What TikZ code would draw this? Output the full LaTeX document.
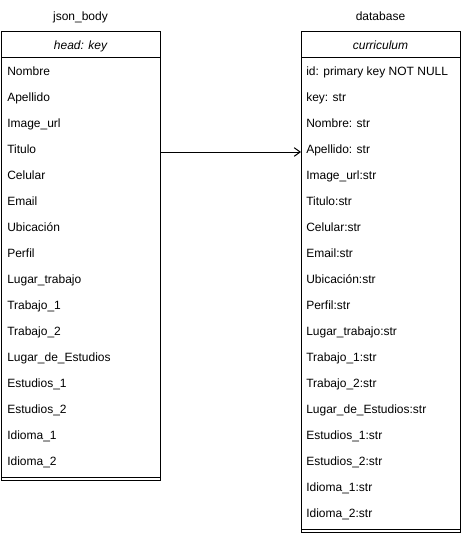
\documentclass[tikz,border=0pt]{standalone}
\usepackage{fontspec}
\setmainfont{Liberation Sans}
\usetikzlibrary{arrows.meta,calc}
\begin{document}
\begin{tikzpicture}[x=0.75pt,y=-0.75pt,
  boxframe/.style={draw=black,line width=0.75pt,rectangle,inner sep=0pt,minimum width=119.25pt},
  rowtxt/.style={anchor=base west,inner sep=0pt,font=\fontsize{9pt}{11pt}\selectfont},
  headtxt/.style={anchor=base,inner sep=0pt,font=\fontsize{9pt}{11pt}\selectfont\itshape},
  titletxt/.style={anchor=base,inner sep=0pt,font=\fontsize{9pt}{11pt}\selectfont},
  divline/.style={draw=black,line width=0.75pt},
  link/.style={draw=black,line width=0.75pt,-{Straight Barb[length=4.5pt,width=6.5pt]}}]
\useasboundingbox (0,0) rectangle (462,533);
% left box
\node[boxframe,minimum height=336.75pt,anchor=north west] (lbox) at (1,31) {};
\node[titletxt] (ltitle) at (80.5,20.5) {json\_body};
\node[headtxt] (lhead) at (80.5,49) {head: key};
\draw[divline] ($(lbox.north west)+(0,-19.5pt)$) -- ($(lbox.north east)+(0,-19.5pt)$);
\draw[divline] ($(lbox.south west)+(0,2.6pt)$) -- ($(lbox.south east)+(0,2.6pt)$);
\foreach \t [count=\i from 0] in {Nombre,Apellido,Image\_url,Titulo,Celular,Email,Ubicación,Perfil,Lugar\_trabajo,Trabajo\_1,Trabajo\_2,Lugar\_de\_Estudios,Estudios\_1,Estudios\_2,Idioma\_1,Idioma\_2}
  \node[rowtxt] (l\i) at (7,75+26*\i) {\t};
% right box
\node[boxframe,minimum height=375.75pt,anchor=north west] (rbox) at (301,31) {};
\node[titletxt] (rtitle) at (380.5,20.5) {database};
\node[headtxt] (rhead) at (380.5,49) {curriculum};
\draw[divline] ($(rbox.north west)+(0,-19.5pt)$) -- ($(rbox.north east)+(0,-19.5pt)$);
\draw[divline] ($(rbox.south west)+(0,2.6pt)$) -- ($(rbox.south east)+(0,2.6pt)$);
\foreach \t [count=\i from 0] in {id: primary key NOT NULL,key: str,Nombre: str,Apellido: str,Image\_url:str,Titulo:str,Celular:str,Email:str,Ubicación:str,Perfil:str,Lugar\_trabajo:str,Trabajo\_1:str,Trabajo\_2:str,Lugar\_de\_Estudios:str,Estudios\_1:str,Estudios\_2:str,Idioma\_1:str,Idioma\_2:str}
  \node[rowtxt] (r\i) at (306,75+26*\i) {\t};
% connector
\draw[link] ($(lbox.east |- l3.base)+(0,0.75pt)$) -- ($(rbox.west |- l3.base)+(0,0.75pt)$);
\end{tikzpicture}
\end{document}
